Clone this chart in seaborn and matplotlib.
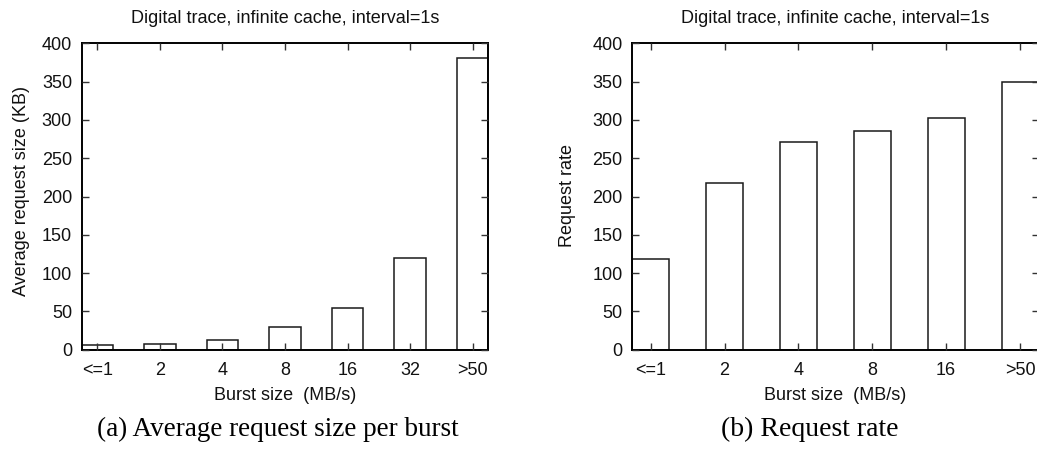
import matplotlib
matplotlib.use("Agg")
import matplotlib.pyplot as plt
import seaborn as sns
import pandas as pd

# Average request size per burst (KB)
size_bins = ["<=1", "2", "4", "8", "16", "32", ">50"]
avg_request_kb = [6.5, 7.8, 13, 29, 55, 120, 381]

# Request rate per burst bin
rate_bins = ["<=1", "2", "4", "8", "16", ">50"]
request_rate = [119, 217, 271, 286, 303, 349]

y_ticks = [0, 50, 100, 150, 200, 250, 300, 350, 400]

title_text = "Digital trace, infinite cache, interval=1s"
xlabel_text = "Burst size  (MB/s)"

sns.set_style("ticks")
plt.rcParams["font.family"] = ["Liberation Sans", "DejaVu Sans"]

W, H = 1037, 449
fig = plt.figure(figsize=(W / 100, H / 100), dpi=100)
FS = 13


def px_axes(x0, x1, top, bottom):
    return fig.add_axes([x0 / W, 1 - bottom / H, (x1 - x0) / W, (bottom - top) / H])


def draw_panel(ax, cats, vals, ylabel, ylabel_xy):
    df = pd.DataFrame({"bin": cats, "value": vals})
    sns.barplot(data=df, x="bin", y="value", ax=ax, width=0.5, color="white",
                edgecolor="#1a1a1a", linewidth=1.1, saturation=1)
    ax.set_xlim(-0.25, len(cats) - 0.75)
    ax.set_ylim(0, 400)
    ax.set_yticks(y_ticks)
    ax.set_axisbelow(False)
    ax.tick_params(direction="in", top=True, right=True, length=5, width=1,
                   color="#333333", labelsize=FS, labelcolor="#111111")
    ax.tick_params(axis="x", pad=8.5)
    ax.tick_params(axis="y", pad=7)
    for s in ax.spines.values():
        s.set_visible(True)
        s.set_linewidth(1.4)
        s.set_color("black")
    ax.set_title(title_text, fontsize=FS, pad=14.5, color="#111111")
    ax.set_xlabel(xlabel_text, fontsize=FS, color="#111111")
    ax.xaxis.set_label_coords(0.5, -0.148)
    ax.xaxis.label.set_va("center")
    ax.set_ylabel(ylabel, fontsize=FS, color="#111111")
    ax.yaxis.set_label_coords(*ylabel_xy)
    ax.yaxis.label.set_va("center")


ax1 = px_axes(81.7, 488.3, 43.3, 349.7)
draw_panel(ax1, size_bins, avg_request_kb, "Average request size (KB)", (-0.148, 0.518))

ax2 = px_axes(632.3, 1038.5, 43.3, 349.7)
draw_panel(ax2, rate_bins, request_rate, "Request rate", (-0.16, 0.502))

fig.text(277.5 / W, 1 - 429 / H, "(a) Average request size per burst",
         ha="center", va="center", fontsize=19.5, family="Liberation Serif", color="black")
fig.text(810 / W, 1 - 429 / H, "(b) Request rate",
         ha="center", va="center", fontsize=20, family="Liberation Serif", color="black")

fig.savefig("out.png", dpi=100, facecolor="white")
